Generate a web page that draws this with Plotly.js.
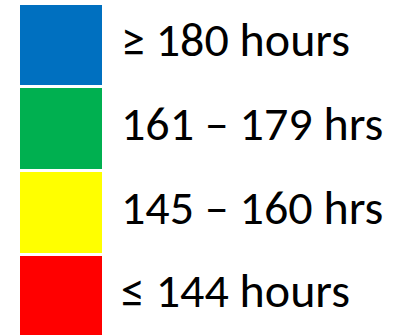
<!DOCTYPE html>
<html>
<head>
<meta charset="utf-8">
<script src="https://cdn.plot.ly/plotly-3.0.1.min.js"></script>
<style>html,body{margin:0;padding:0;background:#fff;}#chart{width:408px;height:335px;}</style>
</head>
<body>
<div id="chart"></div>
<script>
// Legend bands, bottom to top
const labels = ["≤ 144 hours", "145 – 160 hrs", "161 – 179 hrs", "≥ 180 hours"];
const values = [1, 1, 1, 1];
const colors = ["#FF0000", "#FFFF00", "#00B050", "#0070C0"];
const category = ["band"];

const traces = labels.map((lab, i) => ({
  type: "bar",
  x: category,
  y: [values[i]],
  name: lab,
  marker: { color: colors[i], line: { color: "#ffffff", width: 3 } },
  width: 1,
  hoverinfo: "skip"
}));

let cum = 0;
const annotations = labels.map((lab, i) => {
  const mid = cum + values[i] / 2;
  cum += values[i];
  return {
    text: lab, xref: "paper", yref: "y", x: 0.3, y: mid,
    xanchor: "left", yanchor: "middle", showarrow: false, yshift: 5, xshift: -3,
    font: { family: "Carlito, 'Liberation Sans', Arial, sans-serif", size: 48, color: "#000000" }
  };
});

const layout = {
  width: 408, height: 335,
  margin: { l: 0, r: 0, t: 0, b: 0 },
  paper_bgcolor: "#ffffff", plot_bgcolor: "#ffffff",
  barmode: "stack", showlegend: false,
  xaxis: { type: "category", range: [-0.7184, 4.099], visible: false, fixedrange: true },
  yaxis: { range: [0.034, 4.036], visible: false, fixedrange: true },
  annotations: annotations
};

Plotly.newPlot("chart", traces, layout, { staticPlot: true, displayModeBar: false });
</script>
</body>
</html>
